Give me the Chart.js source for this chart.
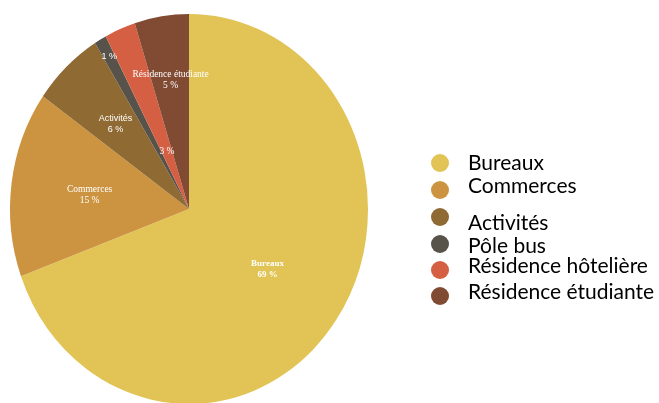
<!DOCTYPE html>
<html>
<head>
<meta charset="utf-8">
<script src="https://cdn.jsdelivr.net/npm/chart.js@4.4.1/dist/chart.umd.min.js"></script>
<style>
  html, body { margin: 0; padding: 0; background: #fff; }
  #wrap { width: 659px; height: 403px; position: relative; }
</style>
</head>
<body>
<div id="wrap"><canvas id="pieChart" width="659" height="403"></canvas></div>
<script>
var labels = ['Bureaux', 'Commerces', 'Activités', 'Pôle bus', 'Résidence hôtelière', 'Résidence étudiante'];
var shares = [69.4, 15.4, 6.4, 1.1, 2.8, 4.9];
var colors = ['#E1C455', '#CC9441', '#8F6A33', '#58534A', '#D55F43', '#804A33'];
// which slices also show their name inside
var sliceNames = ['Bureaux', 'Commerces', 'Activités', '', '', 'Résidence étudiante'];

// label placement inside slices (fraction of radius) and fonts
var labelRadius = [0.535, 0.56, 0.60, 0.90, 0.32, 0.67];
var labelFonts = [
  'bold 9px "Liberation Serif"',
  '9.5px "Liberation Serif"',
  '9px "Liberation Sans"',
  '9px "Liberation Sans"',
  '9.5px "Liberation Serif"',
  '9.5px "Liberation Serif"'
];
// the pie in the original is a bit taller than wide
var stretchY = 195 / 179;

// legend rows: circle centre y and text baseline
var legendCircleY = [163, 190, 217, 244, 270, 296];
var legendTextY = [170, 193, 230, 253, 273, 299];

var ellipsePlugin = {
  id: 'ellipse',
  beforeDatasetsDraw: function(chart) {
    var arc = chart.getDatasetMeta(0).data[0];
    var ctx = chart.ctx;
    ctx.save();
    ctx.translate(arc.x, arc.y);
    ctx.scale(1, stretchY);
    ctx.translate(-arc.x, -arc.y);
  },
  afterDatasetsDraw: function(chart) {
    chart.ctx.restore();
  }
};

var sliceLabelPlugin = {
  id: 'sliceLabels',
  afterDraw: function(chart) {
    var ctx = chart.ctx;
    var total = shares.reduce(function(a, b) { return a + b; }, 0);
    ctx.save();
    ctx.fillStyle = '#ffffff';
    ctx.textAlign = 'center';
    ctx.textBaseline = 'middle';
    chart.getDatasetMeta(0).data.forEach(function(arc, i) {
      var p = arc.getProps(['x', 'y', 'startAngle', 'endAngle', 'outerRadius'], true);
      var mid = (p.startAngle + p.endAngle) / 2;
      var r = p.outerRadius * labelRadius[i];
      var px = p.x + Math.cos(mid) * r;
      var py = p.y + Math.sin(mid) * r * stretchY;
      var pct = Math.round(shares[i] / total * 100) + ' %';
      ctx.font = labelFonts[i];
      if (sliceNames[i]) {
        ctx.fillText(sliceNames[i], px, py - 5.5);
        ctx.fillText(pct, px, py + 5.5);
      } else {
        ctx.fillText(pct, px, py);
      }
    });
    ctx.restore();
  }
};

var legendPlugin = {
  id: 'sideLegend',
  afterDraw: function(chart) {
    var ctx = chart.ctx;
    ctx.save();
    labels.forEach(function(name, i) {
      ctx.beginPath();
      ctx.arc(440, legendCircleY[i], 9, 0, Math.PI * 2);
      ctx.fillStyle = colors[i];
      ctx.fill();
      ctx.fillStyle = '#000000';
      ctx.font = '21px Lato';
      ctx.textAlign = 'left';
      ctx.textBaseline = 'alphabetic';
      ctx.fillText(name, 468, legendTextY[i]);
    });
    ctx.restore();
  }
};

var ctx = document.getElementById('pieChart').getContext('2d');
var pieChart = new Chart(ctx, {
  type: 'pie',
  data: {
    labels: labels,
    datasets: [{
      data: shares,
      backgroundColor: colors,
      borderWidth: 0
    }]
  },
  options: {
    responsive: false,
    animation: false,
    events: [],
    layout: { padding: { left: 10, right: 291, top: 30, bottom: 15 } },
    plugins: {
      legend: { display: false },
      tooltip: { enabled: false }
    }
  },
  plugins: [ellipsePlugin, sliceLabelPlugin, legendPlugin]
});
</script>
</body>
</html>
